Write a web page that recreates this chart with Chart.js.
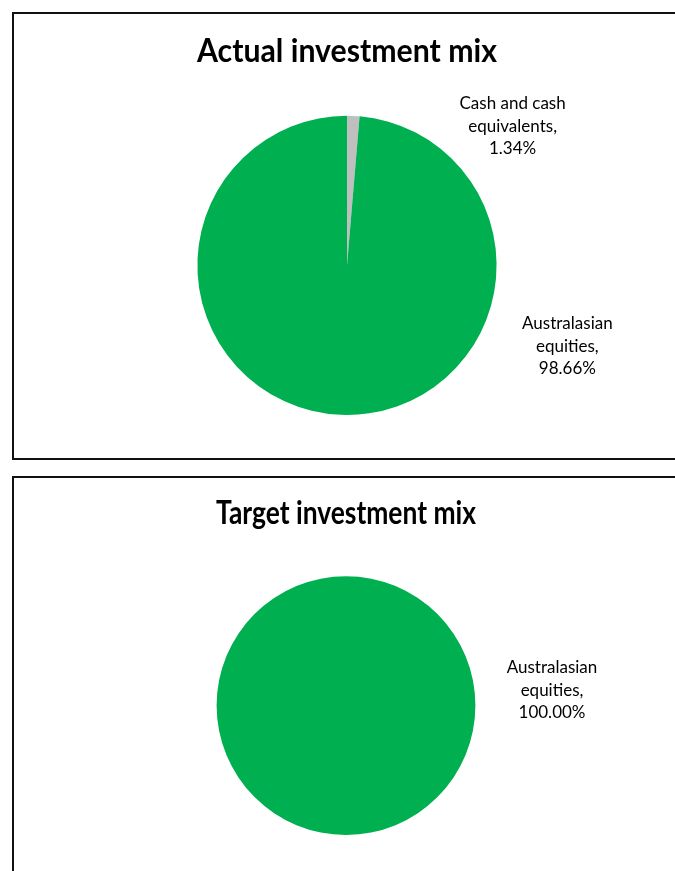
<!DOCTYPE html>
<html>
<head>
<meta charset="utf-8">
<script src="https://cdn.jsdelivr.net/npm/chart.js@4.4.1/dist/chart.umd.min.js"></script>
<style>
    html, body { margin: 0; padding: 0; background: #fff; overflow: hidden; }
    .panel { position: absolute; left: 12px; width: 700px; border: 2px solid #111; background: #fff; }
    #panelActual { top: 12px; height: 444px; }
    #panelTarget { top: 476px; height: 420px; }
    .panel canvas { position: absolute; left: 0; top: 0; }
</style>
</head>
<body>
<div class="panel" id="panelActual"><canvas id="actualChart" width="660" height="443"></canvas></div>
<div class="panel" id="panelTarget"><canvas id="targetChart" width="660" height="393"></canvas></div>
<script>
// actual mix (cash first so it sits just right of 12 o'clock, like Excel)
var actualLabels = ['Cash and cash equivalents', 'Australasian equities'];
var actualValues = [1.34, 98.66];
var actualColors = ['#BFBFBF', '#00B050'];

// target mix
var targetLabels = ['Australasian equities'];
var targetValues = [100.00];
var targetColors = ['#00B050'];

var FONT = 'Lato, "Open Sans", sans-serif';

// label text lines + where to put them, in radius units from the pie centre
var pieLabelPlugin = {
    id: 'pieLabels',
    afterDatasetsDraw: function (chart, args, opts) {
        var ctx = chart.ctx;
        var meta = chart.getDatasetMeta(0);
        var ds = chart.data.datasets[0];
        ctx.save();
        ctx.fillStyle = '#000';
        ctx.font = '17px ' + FONT;
        ctx.textAlign = 'center';
        ctx.textBaseline = 'middle';
        meta.data.forEach(function (arc, i) {
            var spot = opts.spots[i];
            if (!spot) return;
            var cx = arc.x + spot[0] * arc.outerRadius;
            var cy = arc.y + spot[1] * arc.outerRadius;
            var lines = opts.lines[i].concat([ds.data[i].toFixed(2) + '%']);
            var lh = 22.5;
            lines.forEach(function (t, k) {
                ctx.fillText(t, cx, cy + (k - (lines.length - 1) / 2) * lh);
            });
        });
        ctx.restore();
    }
};

function makePie(id, title, labels, values, colors, titlePad, layoutPad, spots, lines) {
    return new Chart(document.getElementById(id), {
        type: 'pie',
        data: {
            labels: labels,
            datasets: [{
                data: values,
                backgroundColor: colors,
                borderWidth: 0
            }]
        },
        options: {
            responsive: false,
            animation: false,
            layout: { padding: layoutPad },
            plugins: {
                legend: { display: false },
                tooltip: { enabled: false },
                title: {
                    display: true,
                    text: title,
                    color: '#000',
                    font: { family: FONT, size: 32, weight: 'bold', lineHeight: 1.2 },
                    padding: titlePad
                },
                pieLabels: { spots: spots, lines: lines }
            }
        },
        plugins: [pieLabelPlugin]
    });
}

makePie('actualChart', 'Actual investment mix', actualLabels, actualValues, actualColors,
    { top: 18, bottom: 45.4 }, { left: 183, right: 177, top: 0, bottom: 42 },
    [[1.107, -0.93], [1.473, 0.54]],
    [['Cash and cash', 'equivalents,'], ['Australasian', 'equities,']]);

makePie('targetChart', 'Target investment mix', targetLabels, targetValues, targetColors,
    { top: 16, bottom: 43.8 }, { left: 202, right: 198, top: 0, bottom: 36 },
    [[1.592, -0.12]],
    [['Australasian', 'equities,']]);
</script>
</body>
</html>
